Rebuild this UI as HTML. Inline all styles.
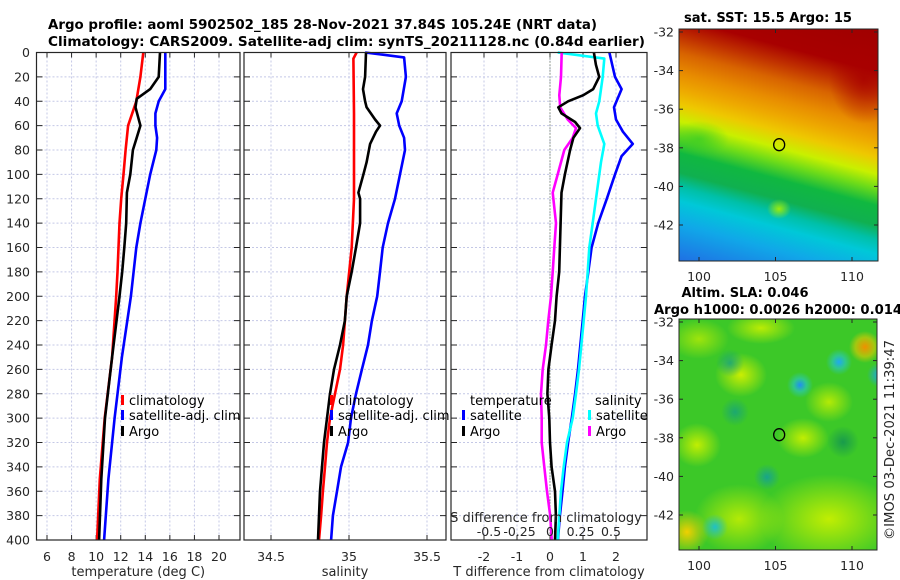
<!DOCTYPE html>
<html><head><meta charset="utf-8">
<style>
html,body{margin:0;padding:0;background:#fff;}
#wrap{position:relative;width:900px;height:580px;overflow:hidden;font-family:"DejaVu Sans","Liberation Sans",sans-serif;}
svg{position:absolute;left:0;top:0;}
.map{position:absolute;overflow:hidden;}
</style></head>
<body>
<div id="wrap">
<div class="map" id="sstmap" style="left:679px;top:29px;width:199px;height:232px;
background:
radial-gradient(ellipse 35px 45px at 185px 50px, rgba(168,0,0,0.8), rgba(168,0,0,0) 100%),
radial-gradient(ellipse 12px 10px at 100px 180px, rgba(170,240,0,0.9), rgba(170,240,0,0) 100%),
radial-gradient(ellipse 30px 18px at 20px 110px, rgba(40,200,40,0.6), rgba(40,200,40,0) 100%),
linear-gradient(195deg,#a00000 0%,#a80000 15%,#c03000 21%,#d86400 27%,#e88c00 34%,#eeaa00 40%,#eec800 45%,#c8f000 51%,#70dc18 56%,#10b840 62%,#10b050 69%,#00c0a8 74%,#00c8d8 79%,#10a8e8 87%,#1f70e4 100%);"></div>
<div class="map" id="slamap" style="left:679px;top:319px;width:198px;height:231px;
background:
radial-gradient(circle 13px at 121px 66px, #2090f0, rgba(40,200,200,0.6) 50%, rgba(60,200,40,0) 100%),
radial-gradient(circle 13px at 160px 43px, #20a8f0, rgba(40,200,200,0.6) 50%, rgba(60,200,40,0) 100%),
radial-gradient(circle 14px at 51px 44px, rgba(20,160,130,0.8), rgba(60,200,40,0) 100%),
radial-gradient(circle 14px at 56px 93px, rgba(20,160,130,0.8), rgba(60,200,40,0) 100%),
radial-gradient(circle 16px at 164px 123px, rgba(20,150,80,0.9), rgba(60,200,40,0) 100%),
radial-gradient(circle 13px at 88px 158px, rgba(20,160,150,0.9), rgba(60,200,40,0) 100%),
radial-gradient(circle 13px at 36px 208px, #20c0c8, rgba(60,200,40,0) 100%),
radial-gradient(circle 12px at 200px 56px, #20a8e0, rgba(60,200,40,0) 100%),
radial-gradient(circle 16px at 186px 28px, #f09000, rgba(230,200,0,0.6) 60%, rgba(200,240,0,0) 100%),
radial-gradient(circle 22px at 8px 213px, #f0d000, rgba(200,240,0,0) 100%),
radial-gradient(ellipse 26px 22px at 62px 56px, rgba(210,240,0,0.95), rgba(200,240,0,0) 100%),
radial-gradient(ellipse 24px 22px at 18px 126px, rgba(200,240,0,0.95), rgba(200,240,0,0) 100%),
radial-gradient(ellipse 26px 20px at 124px 119px, rgba(200,240,0,0.95), rgba(200,240,0,0) 100%),
radial-gradient(ellipse 34px 16px at 82px 9px, rgba(200,240,0,0.9), rgba(200,240,0,0) 100%),
radial-gradient(ellipse 70px 45px at 150px 200px, rgba(200,240,0,0.95), rgba(200,240,0,0) 100%),
radial-gradient(ellipse 45px 35px at 60px 200px, rgba(200,240,0,0.85), rgba(200,240,0,0) 100%),
radial-gradient(ellipse 24px 20px at 150px 83px, rgba(200,240,0,0.85), rgba(200,240,0,0) 100%),
radial-gradient(ellipse 30px 20px at 20px 20px, rgba(200,240,0,0.7), rgba(200,240,0,0) 100%),
#3cc828;"></div>
<svg id="fig" width="900" height="580" xmlns="http://www.w3.org/2000/svg"></svg>
</div>
<script>
// ---------- data ----------
const depthTicks = [0,20,40,60,80,100,120,140,160,180,200,220,240,260,280,300,320,340,360,380,400];
const tempTicks = [6,8,10,12,14,16,18,20];
const salTicks = [34.5,35,35.5];
const salTickLabels = ["34.5","35","35.5"];
const tdiffTicks = [-2,-1,0,1,2];
const sdiffTicks = [-0.5,-0.25,0,0.25,0.5];
const sdiffTickLabels = ["-0.5","-0.25","0","0.25","0.5"];

const tClimDepth = [0,20,40,60,80,100,120,140,160,180,200,250,300,350,400];
const tClimVal   = [13.84,13.6,13.27,12.6,12.4,12.23,12.04,11.9,11.82,11.74,11.63,11.3,10.7,10.3,10.08];
const tSatDepth  = [0,30,40,50,60,70,80,100,120,140,160,180,200,250,300,350,400];
const tSatVal    = [15.63,15.63,15.09,14.82,14.82,14.96,14.9,14.4,14.0,13.6,13.27,13.05,12.83,12.1,11.5,11.0,10.65];
const tArgoDepth = [0,20,30,38,45,60,70,80,100,115,140,160,180,200,250,300,350,400];
const tArgoVal   = [15.2,15.09,14.4,13.3,13.2,13.6,13.3,12.99,12.78,12.5,12.45,12.29,12.12,11.9,11.3,10.72,10.42,10.24];

const sClimDepth = [0,5,50,100,120,160,200,220,240,260,280,300,320,340,360,380,400];
const sClimVal   = [35.049,35.028,35.032,35.032,35.032,35.017,34.985,34.974,34.962,34.942,34.910,34.878,34.859,34.846,34.833,34.821,34.808];
const sSatDepth  = [0,4,20,40,50,60,70,80,100,120,140,160,180,200,220,240,260,280,300,320,340,360,380,400];
const sSatVal    = [35.103,35.353,35.365,35.338,35.306,35.322,35.353,35.359,35.327,35.295,35.250,35.216,35.199,35.181,35.147,35.122,35.083,35.045,35.013,34.994,34.949,34.923,34.897,34.885];
const sArgoDepth = [0,20,30,40,45,55,60,65,75,90,100,115,120,140,160,180,200,220,240,260,280,300,320,340,360,380,400];
const sArgoVal   = [35.109,35.103,35.090,35.103,35.113,35.167,35.199,35.173,35.135,35.113,35.092,35.060,35.071,35.071,35.045,35.017,34.985,34.974,34.942,34.904,34.878,34.859,34.840,34.827,34.814,34.808,34.801];

const tdSatDepth  = [0,20,30,45,55,65,75,85,100,120,140,160,180,200,220,260,280,300,320,340,360,380,400];
const tdSatVal    = [1.80,1.97,2.17,1.94,2.0,2.21,2.51,2.17,1.97,1.72,1.46,1.26,1.16,1.06,0.99,0.85,0.76,0.66,0.55,0.45,0.38,0.30,0.24];
const tdArgoDepth = [0,10,20,30,35,40,45,50,57,62,70,80,100,115,140,160,180,200,220,240,260,280,300,320,340,360,380,400];
const tdArgoVal   = [1.33,1.39,1.49,1.31,1.01,0.55,0.25,0.35,0.76,0.91,0.71,0.61,0.45,0.35,0.32,0.30,0.28,0.20,0.15,0.05,-0.05,-0.08,-0.02,0,0.05,0.15,0.18,0.15];
const sdSatDepth  = [0,5,20,40,50,60,75,90,100,120,140,160,180,200,220,260,280,300,320,340,360,380,400];
const sdSatVal    = [0.063,0.445,0.432,0.404,0.377,0.391,0.445,0.418,0.404,0.377,0.350,0.322,0.309,0.295,0.276,0.238,0.213,0.186,0.139,0.112,0.090,0.076,0.063];
const sdArgoDepth = [0,20,35,45,55,62,70,80,100,115,140,160,180,200,220,240,260,280,300,320,340,360,380,400];
const sdArgoVal   = [0.096,0.090,0.076,0.084,0.145,0.213,0.186,0.117,0.063,0.022,0.049,0.035,0.022,0.008,-0.014,-0.033,-0.060,-0.074,-0.068,-0.068,-0.047,-0.025,0.002,0.014];

const sstLat = [-32,-34,-36,-38,-40,-42];
const lonTicks = [100,105,110];
const argoLon = 105.24, argoLat = -37.84;

// ---------- helpers ----------
const NS = "http://www.w3.org/2000/svg";
const svg = document.getElementById('fig');
function mk(tag, attrs, parent){
  const e = document.createElementNS(NS, tag);
  for (const k in attrs) e.setAttribute(k, attrs[k]);
  (parent||svg).appendChild(e);
  return e;
}
function txt(x,y,s,opt){
  opt = opt||{};
  const t = mk('text',{x:x,y:y,'font-size':opt.size||12,'text-anchor':opt.anchor||'middle',
    'font-family':'"DejaVu Sans","Liberation Sans",sans-serif','font-weight':opt.bold?'bold':'normal',fill:opt.fill||'#262626'});
  if (opt.len) { t.setAttribute('textLength',opt.len); t.setAttribute('lengthAdjust','spacingAndGlyphs'); }
  if (opt.rot) t.setAttribute('transform','rotate('+opt.rot+' '+x+' '+y+')');
  t.textContent = s;
  return t;
}
const Y0 = 52.5, Y1 = 540;
const yScale = d => Y0 + d*(Y1-Y0)/400;
function lin(d0,d1,r0,r1){ return v => r0 + (v-d0)*(r1-r0)/(d1-d0); }

const panels = [
  {name:'temperature-panel', x0:36.5, x1:240, xs:lin(6,20,47,219), ticks:tempTicks, labels:tempTicks.map(String), title:'temperature (deg C)'},
  {name:'salinity-panel', x0:244, x1:446, xs:lin(34.5,35.5,271,427), ticks:salTicks, labels:salTickLabels, title:'salinity'},
  {name:'difference-panel', x0:451, x1:647, xs:lin(-2,2,484,616), ticks:tdiffTicks, labels:tdiffTicks.map(String), title:'T difference from climatology'}
];

function drawLine(g, xs, depths, vals, color, name){
  let d = '';
  for (let i=0;i<depths.length;i++){ d += (i?'L':'M') + xs(vals[i]).toFixed(1) + ' ' + yScale(depths[i]).toFixed(1); }
  const p = mk('path',{d:d,fill:'none',stroke:color,'stroke-width':2.6,'stroke-linejoin':'round'},g);
  
  
  return p;
}

// titles
const t1 = txt(48,29,'Argo profile: aoml 5902502_185 28-Nov-2021 37.84S 105.24E (NRT data)',{bold:true,size:13,anchor:'start',len:549,fill:'#000'});


const t2 = txt(48,46,'Climatology: CARS2009. Satellite-adj clim: synTS_20211128.nc (0.84d earlier)',{bold:true,size:13,anchor:'start',len:597,fill:'#000'});



panels.forEach((P,pi)=>{
  const g = mk('g',{});
  
  
  depthTicks.forEach(d=>{
    const l = mk('line',{x1:P.x0,x2:P.x1,y1:yScale(d),y2:yScale(d),stroke:'#c4c8e6','stroke-width':1,'stroke-dasharray':'2,2'},g);
    
    
  });
  P.ticks.forEach(v=>{
    const x = P.xs(v);
    const l = mk('line',{x1:x,x2:x,y1:Y0,y2:Y1,stroke:'#c4c8e6','stroke-width':1,'stroke-dasharray':'2,2'},g);
    
    
  });
  depthTicks.forEach(d=>{
    mk('line',{x1:P.x0,x2:P.x0+6,y1:yScale(d),y2:yScale(d),stroke:'#262626','stroke-width':1},g);
    mk('line',{x1:P.x1-6,x2:P.x1,y1:yScale(d),y2:yScale(d),stroke:'#262626','stroke-width':1},g);
  });
  P.ticks.forEach((v,i)=>{
    const x = P.xs(v);
    mk('line',{x1:x,x2:x,y1:Y0,y2:Y0+5,stroke:'#262626','stroke-width':1},g);
    mk('line',{x1:x,x2:x,y1:Y1-5,y2:Y1,stroke:'#262626','stroke-width':1},g);
    const tl = txt(x,561,P.labels[i],{size:12.5});
    
    
  });
  const at = txt((P.x0+P.x1)/2, 576, P.title, {size:13});
  
  
  P.g = g;
});

depthTicks.forEach(d=>{
  const t = txt(30, yScale(d)+4.5, String(d), {size:12.5, anchor:'end'});
  
  
});

const zl = mk('line',{x1:panels[2].xs(0),x2:panels[2].xs(0),y1:Y0,y2:Y1,stroke:'#4a5a3a','stroke-width':1,'stroke-dasharray':'1,2'},panels[2].g);



const P1 = panels[0], P2 = panels[1], P3 = panels[2];
drawLine(P1.g, P1.xs, tSatDepth, tSatVal, '#0000ff', 'temp-satellite-line');
drawLine(P1.g, P1.xs, tClimDepth, tClimVal, '#ff0000', 'temp-climatology-line');
drawLine(P1.g, P1.xs, tArgoDepth, tArgoVal, '#000000', 'temp-argo-line');
drawLine(P2.g, P2.xs, sSatDepth, sSatVal, '#0000ff', 'sal-satellite-line');
drawLine(P2.g, P2.xs, sClimDepth, sClimVal, '#ff0000', 'sal-climatology-line');
drawLine(P2.g, P2.xs, sArgoDepth, sArgoVal, '#000000', 'sal-argo-line');
const sdx = lin(-0.5,0.5,489,611);
drawLine(P3.g, P3.xs, tdSatDepth, tdSatVal, '#0000ff', 'tdiff-satellite-line');
drawLine(P3.g, sdx, sdSatDepth, sdSatVal, '#00ffff', 'sdiff-satellite-line');
drawLine(P3.g, sdx, sdArgoDepth, sdArgoVal, '#ff00ff', 'sdiff-argo-line');
drawLine(P3.g, P3.xs, tdArgoDepth, tdArgoVal, '#000000', 'tdiff-argo-line');

const sdt = txt(546,522,'S difference from climatology',{size:13});


sdiffTicks.forEach((v,i)=>{
  const t = txt(sdx(v),536,sdiffTickLabels[i],{size:12.5});
  
  
});

panels.forEach(P=>{
  const r = mk('rect',{x:P.x0,y:Y0,width:P.x1-P.x0,height:Y1-Y0,fill:'none',stroke:'#262626','stroke-width':1.2});
  
  
});

function legendEntry(x,y,color,label,name){
  const g = mk('g',{});
  
  
  mk('rect',{x:x,y:y-10,width:3,height:10,fill:color},g);
  txt(x+8,y,label,{size:13,anchor:'start'}).setAttribute('fill','#000');
  g.lastChild.parentNode.appendChild(g.lastChild);
}
legendEntry(121,405,'#ff0000','climatology','legend-entry-climatology');
legendEntry(121,420,'#0000ff','satellite-adj. clim','legend-entry-satellite');
legendEntry(121,436,'#000000','Argo','legend-entry-argo');
legendEntry(330,405,'#ff0000','climatology','legend-entry-climatology-sal');
legendEntry(330,420,'#0000ff','satellite-adj. clim','legend-entry-satellite-sal');
legendEntry(330,436,'#000000','Argo','legend-entry-argo-sal');
const lt = txt(470,405,'temperature',{size:13,anchor:'start',fill:'#000'});


const ls = txt(595,405,'salinity',{size:13,anchor:'start',fill:'#000'});


legendEntry(462,420,'#0000ff','satellite','legend-entry-t-satellite');
legendEntry(462,436,'#000000','Argo','legend-entry-t-argo');
legendEntry(588,420,'#00ffff','satellite','legend-entry-s-satellite');
legendEntry(588,436,'#ff00ff','Argo','legend-entry-s-argo');

function mapAxes(name, x0,y0,w,h, latTopY, latStep, lonX){
  const g = mk('g',{});
  
  
  mk('rect',{x:x0,y:y0,width:w,height:h,fill:'none',stroke:'#262626','stroke-width':1},g);
  sstLat.forEach((la,i)=>{
    const y = latTopY + i*latStep;
    mk('line',{x1:x0,x2:x0+4,y1:y,y2:y,stroke:'#262626'},g);
    mk('line',{x1:x0+w-4,x2:x0+w,y1:y,y2:y,stroke:'#262626'},g);
    const t = txt(674,y+4.5,String(la),{size:12.5,anchor:'end'});
    
    
  });
  lonTicks.forEach(lo=>{
    const x = lonX(lo);
    mk('line',{x1:x,x2:x,y1:y0,y2:y0+4,stroke:'#262626'},g);
    mk('line',{x1:x,x2:x,y1:y0+h-4,y2:y0+h,stroke:'#262626'},g);
    const t = txt(x,y0+h+20,String(lo),{size:12.5});
    
    
  });
  const latY = latTopY + (-32-argoLat)/2*latStep;
  const c = mk('ellipse',{cx:lonX(argoLon),cy:latY,rx:5.5,ry:6,fill:'none',stroke:'#000','stroke-width':1.3},g);
  
  
}
const lonX = lin(100,110,699,852);
mapAxes('sst-map-axes',679,29,199,232,32,38.6,lonX);
mapAxes('sla-map-axes',679,319,198,231,322,38.6,lonX);
const mt1 = txt(768,22,'sat. SST: 15.5 Argo: 15',{bold:true,size:13,fill:'#000',len:168});


const mt2 = txt(745,297,'Altim. SLA: 0.046',{bold:true,size:13,fill:'#000',len:127});


const mt3 = txt(654,314,'Argo h1000: 0.0026 h2000: 0.014',{bold:true,size:13,anchor:'start',fill:'#000',len:248});


const cr = txt(894,440,'©IMOS 03-Dec-2021 11:39:47',{size:13,rot:-90,len:200});


</script>
</body></html>
